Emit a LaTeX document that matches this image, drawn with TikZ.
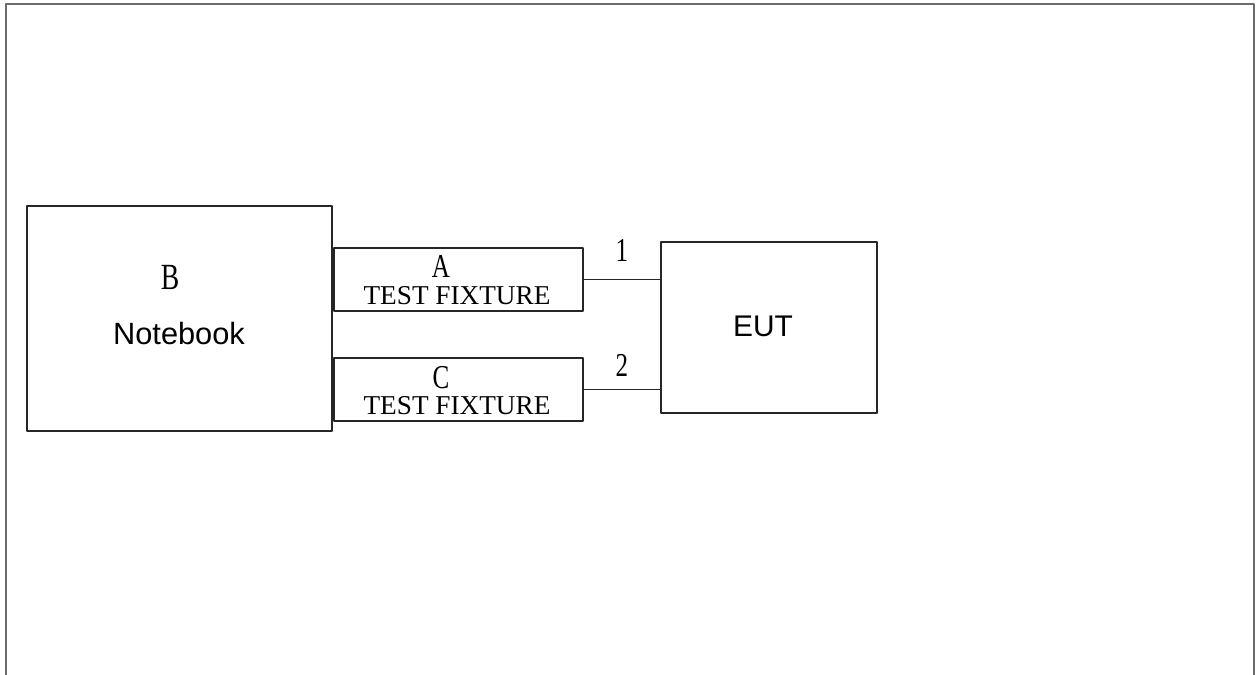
\documentclass[tikz,border=0pt]{standalone}
\usepackage{fontspec}
\setmainfont{Liberation Serif}
\newfontfamily\arialfont{Liberation Sans}
\begin{document}
\begin{tikzpicture}[x=0.02cm, y=-0.02cm, line join=round, line cap=round]
	\tikzset{
		box/.style={draw=black!85, line width=1pt, inner sep=0pt, fill=white},
		big/.style={font=\arialfont\fontsize{17.5}{20}\selectfont, inner sep=0pt},
		letter/.style={font=\fontsize{19}{21}\selectfont, xscale=0.75, transform shape, inner sep=0pt},
		fixt/.style={font=\fontsize{15.5}{17}\selectfont, inner sep=0pt},
		wire/.style={draw=black!85, line width=1pt}
	}
	\useasboundingbox (0,0) rectangle (1258,675);
	% frame
	\draw[gray!85!black, line width=1.3pt] (6,675)--(6,4)--(1254,4)--(1254,675);
	% boxes
	\node[box, minimum width=6.1cm, minimum height=4.5cm] (nb) at (179.5,318.5) {};
	\node[box, minimum width=4.98cm, minimum height=1.26cm] (fixA) at (458.5,279.5) {};
	\node[box, minimum width=4.98cm, minimum height=1.26cm] (fixC) at (458.5,389.5) {};
	\node[box, minimum width=4.32cm, minimum height=3.42cm] (eut) at (769,327.5) {};
	% texts
	\node[letter, font=\fontsize{21}{23}\selectfont] (labB) at (170,277) {B};
	\node[big] (labNb) at (179,334) {Notebook};
	\node[letter] (labA) at (441,266) {A};
	\node[fixt] (labFA) at (457,296) {TEST FIXTURE};
	\node[letter] (labC) at (441,378) {C};
	\node[fixt] (labFC) at (457,406) {TEST FIXTURE};
	\node[big, font=\arialfont\fontsize{17}{19}\selectfont] (labEut) at (763,326) {EUT};
	% wires
	\draw[wire] (fixA.east) -- (fixA.east -| eut.west)
		node[letter, midway, yshift=16.4pt] (num1) {1};
	\draw[wire] (fixC.east) -- (fixC.east -| eut.west)
		node[letter, midway, yshift=13.6pt] (num2) {2};
\end{tikzpicture}
\end{document}
